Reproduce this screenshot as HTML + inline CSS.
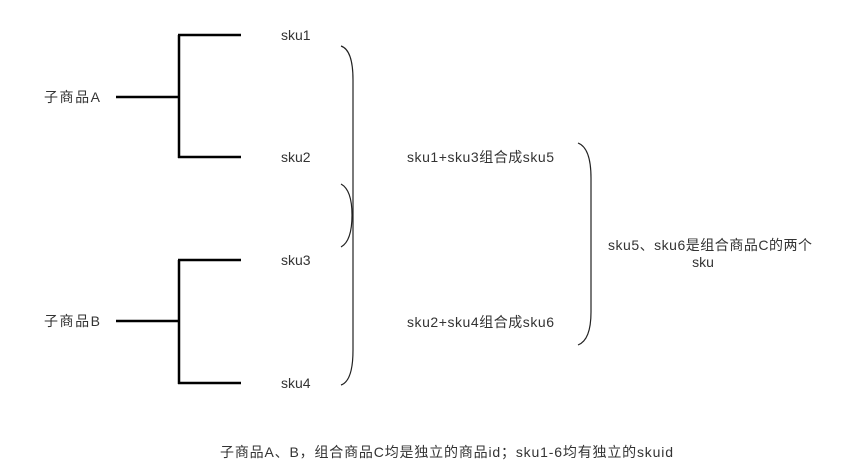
<!DOCTYPE html>
<html><head><meta charset="utf-8"><style>
html,body{margin:0;padding:0;background:#fff;}
svg{display:block}
text{font-family:"Liberation Sans","Noto Sans CJK SC",sans-serif;font-size:14px;fill:#333;}
</style></head><body>
<svg width="865" height="476" viewBox="0 0 865 476" xmlns="http://www.w3.org/2000/svg">
<g stroke="#000" stroke-width="2.5" fill="none" stroke-linecap="butt">
<path d="M116 97 H179 M179 35 V158 M178 35 H241 M178 157 H241"/>
<path d="M116 321 H179 M179 260 V384 M178 260 H241 M178 383 H241"/>
</g>
<g stroke="#222" stroke-width="1.2" fill="none">
<path d="M341 46 Q353 50 353 80 L353 350 Q353 381 341 385"/>
<path d="M341 184 Q352 190 352 215 Q352 241 341 247"/>
<path d="M578 143 Q591 148 591 178 L591 312 Q591 340 578 345"/>
</g>
<text x="44" y="102" textLength="56">子商品A</text>
<text x="44" y="326" textLength="56">子商品B</text>
<text x="281" y="40">sku1</text>
<text x="281" y="162">sku2</text>
<text x="281" y="265">sku3</text>
<text x="281" y="388">sku4</text>
<text x="407" y="162" textLength="147">sku1+sku3组合成sku5</text>
<text x="407" y="327" textLength="147">sku2+sku4组合成sku6</text>
<text x="608" y="250" textLength="204">sku5、sku6是组合商品C的两个</text>
<text x="703" y="267" text-anchor="middle">sku</text>
<text x="220" y="457" textLength="453">子商品A、B，组合商品C均是独立的商品id；sku1-6均有独立的skuid</text>
</svg>
</body></html>
